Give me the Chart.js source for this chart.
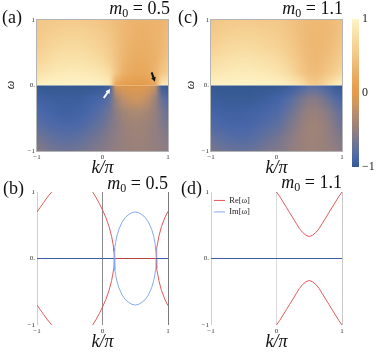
<!DOCTYPE html>
<html>
<head>
<meta charset="utf-8">
<script src="https://cdn.jsdelivr.net/npm/chart.js@4.4.1/dist/chart.umd.min.js"></script>
<style>
  body { margin: 0; background: #fff; }
  #fig { position: relative; width: 377px; height: 354px; overflow: hidden; background: #fff;
         font-family: 'Liberation Serif', 'DejaVu Serif', serif; color: #111; }
  #fig canvas { position: absolute; }
  .lbl { position: absolute; white-space: nowrap; line-height: 1; font-size: 18px; }
  .ttl { position: absolute; white-space: nowrap; line-height: 1; font-size: 18px; }
  .ttl sub { font-size: 12px; vertical-align: -3px; line-height: 0; }
  .wlab { position: absolute; width: 20px; height: 14px; line-height: 14px; text-align: center;
          font-size: 12px; font-style: italic; transform: rotate(-90deg); }
</style>
</head>
<body>
<div id="fig">
  <canvas id="cA" width="172" height="185" style="left:0;top:0"></canvas>
  <canvas id="cC" width="166" height="185" style="left:180px;top:0"></canvas>
  <canvas id="cBar" width="31" height="185" style="left:346px;top:0"></canvas>
  <canvas id="cB" width="172" height="182" style="left:0;top:172px"></canvas>
  <canvas id="cD" width="166" height="182" style="left:180px;top:172px"></canvas>

  <div class="lbl" style="left:2px;top:8px">(a)</div>
  <div class="lbl" style="left:178px;top:8px">(c)</div>
  <div class="lbl" style="left:3px;top:179px">(b)</div>
  <div class="lbl" style="left:181px;top:179px">(d)</div>
  <div class="ttl" style="right:207px;top:-1px"><i>m</i><sub>0</sub> = 0.5</div>
  <div class="ttl" style="right:34px;top:-1px"><i>m</i><sub>0</sub> = 1.1</div>
  <div class="ttl" style="right:209px;top:174px"><i>m</i><sub>0</sub> = 0.5</div>
  <div class="ttl" style="right:35px;top:173px"><i>m</i><sub>0</sub> = 1.1</div>
  <div class="wlab" style="left:0px;top:78px">ω</div>
  <div class="wlab" style="left:180px;top:78px">ω</div>
</div>
<script>
const SERIF = "'Liberation Serif', 'DejaVu Serif', serif";

// axis ticks
const kTicks = [-1, 0, 1];
const kTickText = ['\u22121', '0', '1'];
const wTicks = [-1, 0, 1];
const wTickText = ['\u22121', '0.', '1'];

// colour scale of the density plots
const cmapValues = [-1, -0.9, -0.8, -0.65, -0.55, -0.45, -0.3, -0.15, 0, 0.2, 0.35, 0.5, 0.65, 0.85, 1];
const cmapColors = ['#34598f', '#4565aa', '#586ea4', '#767690', '#8a7c86', '#9c8279', '#b28c70', '#cf9660',
                    '#e39a4a', '#e8a85c', '#edb670', '#f3c686', '#f6d294', '#fbe6b0', '#fef4c8'];
const barTicks = [-1, 0, 1];
const barTickText = ['\u22121', '0', '1'];

// density plot grid (k/pi columns, omega rows)
const kGrid = [-1, -0.9, -0.8, -0.7, -0.6, -0.5, -0.4, -0.3, -0.2, -0.1, 0, 0.1, 0.2, 0.3, 0.4, 0.5, 0.6, 0.7, 0.8, 0.9, 1];
const wTopGrid = [1, 0.8, 0.6, 0.4, 0.2, 0];
const wBottomGrid = [0, -0.2, -0.4, -0.6, -0.8, -1];

// (a) m0 = 0.5
const heatTopA = [
  [0.50,0.52,0.54,0.55,0.56,0.56,0.56,0.55,0.53,0.51,0.48,0.45,0.41,0.38,0.35,0.33,0.32,0.32,0.33,0.35,0.38],
  [0.55,0.58,0.61,0.63,0.65,0.66,0.66,0.65,0.63,0.60,0.56,0.50,0.44,0.38,0.34,0.31,0.30,0.31,0.33,0.36,0.42],
  [0.60,0.64,0.68,0.71,0.72,0.73,0.73,0.72,0.70,0.67,0.63,0.55,0.46,0.38,0.32,0.29,0.28,0.29,0.32,0.37,0.44],
  [0.68,0.72,0.76,0.79,0.80,0.81,0.81,0.80,0.78,0.75,0.71,0.62,0.47,0.36,0.29,0.25,0.24,0.26,0.31,0.40,0.50],
  [0.80,0.83,0.86,0.88,0.89,0.90,0.90,0.89,0.88,0.86,0.83,0.75,0.50,0.32,0.24,0.21,0.20,0.23,0.33,0.50,0.62],
  [0.97,0.98,0.99,1.00,1.00,1.00,1.00,1.00,0.99,0.98,0.96,0.92,0.15,0.06,0.03,0.02,0.03,0.06,0.15,0.88,0.94]
];
const heatBottomA = [
  [-1.00,-1.00,-1.00,-1.00,-1.00,-1.00,-1.00,-1.00,-1.00,-0.99,-0.98,-0.95,-0.10,-0.04,-0.02,-0.02,-0.03,-0.06,-0.20,-0.96,-0.99],
  [-0.92,-0.93,-0.94,-0.95,-0.95,-0.95,-0.95,-0.94,-0.92,-0.90,-0.87,-0.78,-0.45,-0.25,-0.18,-0.15,-0.17,-0.25,-0.45,-0.72,-0.85],
  [-0.86,-0.88,-0.90,-0.92,-0.93,-0.93,-0.92,-0.90,-0.87,-0.83,-0.77,-0.68,-0.54,-0.42,-0.36,-0.34,-0.35,-0.40,-0.48,-0.62,-0.73],
  [-0.78,-0.81,-0.84,-0.86,-0.87,-0.87,-0.86,-0.84,-0.80,-0.75,-0.70,-0.62,-0.55,-0.48,-0.44,-0.42,-0.43,-0.46,-0.50,-0.58,-0.65],
  [-0.66,-0.70,-0.74,-0.77,-0.78,-0.78,-0.77,-0.74,-0.70,-0.66,-0.62,-0.57,-0.52,-0.48,-0.46,-0.45,-0.45,-0.47,-0.50,-0.54,-0.58],
  [-0.56,-0.60,-0.64,-0.67,-0.68,-0.68,-0.67,-0.65,-0.62,-0.59,-0.57,-0.54,-0.50,-0.48,-0.47,-0.46,-0.46,-0.47,-0.49,-0.51,-0.54]
];

// (c) m0 = 1.1
const heatTopC = [
  [0.50,0.52,0.54,0.55,0.56,0.56,0.56,0.55,0.54,0.53,0.52,0.50,0.47,0.44,0.41,0.39,0.38,0.38,0.39,0.42,0.45],
  [0.56,0.59,0.62,0.64,0.65,0.66,0.66,0.65,0.63,0.61,0.59,0.55,0.50,0.45,0.41,0.38,0.37,0.37,0.39,0.43,0.48],
  [0.64,0.67,0.70,0.72,0.73,0.74,0.73,0.72,0.70,0.68,0.66,0.61,0.55,0.48,0.42,0.38,0.37,0.38,0.41,0.46,0.52],
  [0.74,0.77,0.79,0.81,0.82,0.82,0.82,0.81,0.79,0.77,0.75,0.70,0.63,0.54,0.45,0.40,0.38,0.40,0.45,0.52,0.60],
  [0.85,0.86,0.88,0.89,0.90,0.90,0.90,0.89,0.88,0.86,0.84,0.80,0.73,0.63,0.50,0.43,0.42,0.45,0.53,0.63,0.72],
  [0.98,0.99,0.99,1.00,1.00,1.00,1.00,1.00,0.99,0.99,0.98,0.96,0.93,0.88,0.78,0.62,0.58,0.66,0.80,0.92,0.97]
];
const heatBottomC = [
  [-1.00,-1.00,-1.00,-1.00,-1.00,-1.00,-1.00,-1.00,-1.00,-1.00,-0.99,-0.98,-0.96,-0.92,-0.86,-0.80,-0.80,-0.85,-0.92,-0.97,-0.99],
  [-0.96,-0.96,-0.97,-0.97,-0.97,-0.97,-0.97,-0.96,-0.95,-0.93,-0.91,-0.87,-0.81,-0.72,-0.63,-0.57,-0.57,-0.63,-0.72,-0.82,-0.89],
  [-0.91,-0.92,-0.93,-0.93,-0.93,-0.93,-0.92,-0.91,-0.89,-0.87,-0.85,-0.79,-0.71,-0.62,-0.53,-0.48,-0.47,-0.51,-0.58,-0.68,-0.77],
  [-0.84,-0.86,-0.88,-0.89,-0.89,-0.89,-0.88,-0.86,-0.83,-0.80,-0.77,-0.71,-0.63,-0.55,-0.48,-0.44,-0.43,-0.46,-0.52,-0.61,-0.70],
  [-0.73,-0.76,-0.79,-0.81,-0.82,-0.82,-0.81,-0.78,-0.74,-0.70,-0.67,-0.61,-0.55,-0.50,-0.46,-0.44,-0.44,-0.46,-0.50,-0.56,-0.62],
  [-0.63,-0.66,-0.69,-0.71,-0.72,-0.72,-0.71,-0.68,-0.65,-0.62,-0.60,-0.56,-0.52,-0.49,-0.46,-0.45,-0.45,-0.46,-0.48,-0.51,-0.54]
];

// arrows pointing at the exceptional points in (a): [k from, w from, k to, w to]
const arrowWhiteA = [0.02, -0.19, 0.115, -0.053];
const arrowBlackA = [0.75, 0.20, 0.80, 0.058];

// (b) m0 = 0.5 spectrum
const kB = [-1, -0.95, -0.9, -0.85, -0.8, -0.76, -0.5, -0.16, -0.15, -0.1, -0.05, 0, 0.05, 0.1, 0.14, 0.16, 0.17, 0.175,
            0.18, 0.185, 0.19, 0.2, 0.22, 0.25, 0.3, 0.35, 0.4, 0.45, 0.5, 0.55, 0.6, 0.65, 0.7, 0.75, 0.78, 0.8, 0.81, 0.815,
            0.82, 0.825, 0.83, 0.84, 0.86, 0.9, 0.95, 1];
const reUpperB = [0.70, 0.77, 0.84, 0.91, 0.97, 1.02, null, 1.02, 1.00, 0.92, 0.83, 0.73, 0.62, 0.48, 0.33, 0.22, 0.16, 0.11,
                  0, 0, 0, 0, 0, 0, 0, 0, 0, 0, 0, 0, 0, 0, 0, 0, 0, 0, 0, 0,
                  0, 0.11, 0.16, 0.22, 0.33, 0.48, 0.61, 0.71];
const reLowerB = [-0.70, -0.77, -0.84, -0.91, -0.97, -1.02, null, -1.02, -1.00, -0.92, -0.83, -0.73, -0.62, -0.48, -0.33, -0.22, -0.16, -0.11,
                  0, 0, 0, 0, 0, 0, 0, 0, 0, 0, 0, 0, 0, 0, 0, 0, 0, 0, 0, 0,
                  0, -0.11, -0.16, -0.22, -0.33, -0.48, -0.61, -0.71];
const imUpperB = [0, 0, 0, 0, 0, 0, 0, 0, 0, 0, 0, 0, 0, 0, 0, 0, 0, 0,
                  0, 0.12, 0.17, 0.24, 0.34, 0.44, 0.55, 0.62, 0.66, 0.69, 0.70, 0.69, 0.66, 0.62, 0.55, 0.44, 0.34, 0.24, 0.17, 0.12,
                  0, 0, 0, 0, 0, 0, 0, 0];
const imLowerB = [0, 0, 0, 0, 0, 0, 0, 0, 0, 0, 0, 0, 0, 0, 0, 0, 0, 0,
                  0, -0.12, -0.17, -0.24, -0.34, -0.44, -0.55, -0.62, -0.66, -0.69, -0.70, -0.69, -0.66, -0.62, -0.55, -0.44, -0.34, -0.24, -0.17, -0.12,
                  0, 0, 0, 0, 0, 0, 0, 0];

// (d) m0 = 1.1 spectrum
const kD = [-1, 0, 0.05, 0.1, 0.15, 0.2, 0.25, 0.3, 0.35, 0.4, 0.45, 0.5, 0.55, 0.6, 0.65, 0.7, 0.75, 0.8, 0.85, 0.9, 0.95, 1];
const reUpperD = [null, 1.00, 0.93, 0.85, 0.77, 0.69, 0.61, 0.53, 0.45, 0.39, 0.35, 0.33, 0.35, 0.39, 0.45, 0.53, 0.61, 0.69, 0.77, 0.85, 0.93, 1.00];
const reLowerD = [null, -1.00, -0.93, -0.85, -0.77, -0.69, -0.61, -0.53, -0.45, -0.39, -0.35, -0.33, -0.35, -0.39, -0.45, -0.53, -0.61, -0.69, -0.77, -0.85, -0.93, -1.00];
const imUpperD = [0, 0, 0, 0, 0, 0, 0, 0, 0, 0, 0, 0, 0, 0, 0, 0, 0, 0, 0, 0, 0, 0];
const imLowerD = [0, 0, 0, 0, 0, 0, 0, 0, 0, 0, 0, 0, 0, 0, 0, 0, 0, 0, 0, 0, 0, 0];

const RE = '#e2585a', RE_DARK = '#b8443f', IM = '#86a9ef', IM_DARK = '#3d5ca8';

function hexToRgb(h) {
  return [parseInt(h.slice(1, 3), 16), parseInt(h.slice(3, 5), 16), parseInt(h.slice(5, 7), 16)];
}
function cmap(v) {
  v = Math.max(-1, Math.min(1, v));
  for (let i = 1; i < cmapValues.length; i++) {
    if (v <= cmapValues[i]) {
      const t = (v - cmapValues[i - 1]) / (cmapValues[i] - cmapValues[i - 1]);
      const a = hexToRgb(cmapColors[i - 1]), b = hexToRgb(cmapColors[i]);
      return a.map((c, j) => Math.round(c + (b[j] - c) * t));
    }
  }
  return hexToRgb(cmapColors[cmapColors.length - 1]);
}

function drawArrow(ctx, x0, y0, x1, y1, color) {
  const ang = Math.atan2(y1 - y0, x1 - x0), head = 5;
  ctx.strokeStyle = color; ctx.fillStyle = color; ctx.lineWidth = 2; ctx.lineCap = 'butt';
  ctx.beginPath();
  ctx.moveTo(x0, y0);
  ctx.lineTo(x1 - head * 0.8 * Math.cos(ang), y1 - head * 0.8 * Math.sin(ang));
  ctx.stroke();
  ctx.beginPath();
  ctx.moveTo(x1, y1);
  ctx.lineTo(x1 - head * Math.cos(ang - 0.5), y1 - head * Math.sin(ang - 0.5));
  ctx.lineTo(x1 - head * Math.cos(ang + 0.5), y1 - head * Math.sin(ang + 0.5));
  ctx.closePath();
  ctx.fill();
}

const heatmapPlugin = {
  id: 'heatmap',
  beforeDatasetsDraw(chart, args, opts) {
    const {ctx, chartArea: a, scales: {x, y}} = chart;
    const dk = kGrid[1] - kGrid[0];
    [[opts.top, wTopGrid, 1, 0], [opts.bottom, wBottomGrid, 0, -1]].forEach(([grid, ws, wHi, wLo]) => {
      const off = document.createElement('canvas');
      off.width = kGrid.length; off.height = ws.length;
      const octx = off.getContext('2d');
      const img = octx.createImageData(off.width, off.height);
      grid.forEach((row, r) => row.forEach((v, c) => {
        const rgb = cmap(v), p = (r * off.width + c) * 4;
        img.data[p] = rgb[0]; img.data[p + 1] = rgb[1]; img.data[p + 2] = rgb[2]; img.data[p + 3] = 255;
      }));
      octx.putImageData(img, 0, 0);
      const dw = ws[0] - ws[1];
      const x0 = x.getPixelForValue(kGrid[0] - dk / 2), x1 = x.getPixelForValue(kGrid[kGrid.length - 1] + dk / 2);
      const y0 = y.getPixelForValue(ws[0] + dw / 2), y1 = y.getPixelForValue(ws[ws.length - 1] - dw / 2);
      const yt = y.getPixelForValue(wHi), yb = y.getPixelForValue(wLo);
      ctx.save();
      ctx.beginPath();
      ctx.rect(a.left, yt, a.right - a.left, yb - yt);
      ctx.clip();
      ctx.imageSmoothingEnabled = true;
      ctx.imageSmoothingQuality = 'low';
      ctx.drawImage(off, x0, y0, x1 - x0, y1 - y0);
      ctx.restore();
    });
  },
  afterDatasetsDraw(chart, args, opts) {
    const {ctx, chartArea: a, scales: {x, y}} = chart;
    ctx.save();
    (opts.arrows || []).forEach(([arr, color]) => {
      drawArrow(ctx, x.getPixelForValue(arr[0]), y.getPixelForValue(arr[1]),
                x.getPixelForValue(arr[2]), y.getPixelForValue(arr[3]), color);
    });
    ctx.strokeStyle = '#b4b4b4';
    ctx.lineWidth = 1;
    ctx.strokeRect(a.left - 0.5, a.top - 0.5, a.right - a.left + 1, a.bottom - a.top + 1);
    ctx.restore();
  }
};

const colorbarPlugin = {
  id: 'colorbar',
  beforeDatasetsDraw(chart) {
    const {ctx, chartArea: a, scales: {y}} = chart;
    const g = ctx.createLinearGradient(0, y.getPixelForValue(-1), 0, y.getPixelForValue(1));
    cmapValues.forEach((v, i) => g.addColorStop((v + 1) / 2, cmapColors[i]));
    ctx.fillStyle = g;
    ctx.fillRect(a.left, a.top, a.right - a.left, a.bottom - a.top);
  }
};

function axes(o) {
  return {
    x: {
      type: 'linear', min: -1, max: 1,
      afterBuildTicks: s => { s.ticks = kTicks.map(v => ({value: v})); },
      afterFit: s => { s.height = o.xh; },
      ticks: { callback: v => kTickText[kTicks.indexOf(v)], font: {family: SERIF, size: 7}, color: '#333',
               padding: 2, maxRotation: 0, autoSkip: false },
      grid: { display: !!o.vgrid, drawTicks: false, lineWidth: 1,
              color: c => o.vgrid ? o.vgrid[kTicks.indexOf(c.tick.value)] : 'transparent' },
      border: { display: false },
      title: { display: true, text: 'k/π', color: '#111', font: {family: SERIF, size: 18, style: 'italic'},
               padding: {top: 0, bottom: o.xtPad} }
    },
    y: {
      type: 'linear', min: -1, max: 1,
      afterBuildTicks: s => { s.ticks = wTicks.map(v => ({value: v})); },
      afterFit: s => { s.width = o.yw; },
      ticks: { callback: v => wTickText[wTicks.indexOf(v)], font: {family: SERIF, size: 7}, color: '#333',
               padding: 2, autoSkip: false },
      grid: { display: false, drawTicks: false },
      border: { display: false }
    }
  };
}

function heatChart(id, top, bottom, arrows) {
  return new Chart(document.getElementById(id), {
    type: 'scatter',
    data: { datasets: [] },
    options: {
      responsive: false, animation: false, devicePixelRatio: 1, events: [],
      layout: { padding: {left: 0, top: 20, right: 4, bottom: 0} },
      scales: axes({xh: 34, xtPad: 6, yw: id === 'cA' ? 37 : 31}),
      plugins: { legend: {display: false}, tooltip: {enabled: false}, heatmap: {top, bottom, arrows} }
    },
    plugins: [heatmapPlugin]
  });
}

function pts(ks, vs) { return ks.map((k, i) => ({x: k, y: vs[i]})); }
function lineSet(label, data, color, dark, order) {
  return {
    label, data, order, borderColor: color, backgroundColor: color, borderWidth: 1, pointRadius: 0,
    tension: 0, spanGaps: false,
    segment: { borderColor: c => (c.p0.parsed.y === 0 && c.p1.parsed.y === 0) ? dark : undefined }
  };
}

function lineChart(id, ks, reU, reL, imU, imL, vgrid, legend) {
  return new Chart(document.getElementById(id), {
    type: 'line',
    data: {
      datasets: [
        lineSet('Re[ω]', pts(ks, reU), RE, RE_DARK, 2),
        lineSet('', pts(ks, reL), RE, RE_DARK, 2),
        lineSet('Im[ω]', pts(ks, imU), IM, IM_DARK, 1),
        lineSet('', pts(ks, imL), IM, IM_DARK, 1)
      ]
    },
    options: {
      responsive: false, animation: false, devicePixelRatio: 1, events: [],
      layout: { padding: {left: 0, top: 20, right: 4, bottom: 0} },
      scales: axes({xh: 29, xtPad: 1, yw: id === 'cB' ? 37 : 31, vgrid}),
      plugins: {
        tooltip: {enabled: false},
        legend: {
          display: legend, position: 'chartArea', align: 'start',
          title: { display: true, text: ' ', font: {size: 1}, padding: {top: 20, bottom: 0} },
          labels: {
            filter: item => item.text !== '',
            sort: (a, b) => a.datasetIndex - b.datasetIndex,
            usePointStyle: true, pointStyle: 'line', pointStyleWidth: 11,
            font: {family: SERIF, size: 8.5}, color: '#222', padding: 3
          }
        }
      }
    }
  });
}

heatChart('cA', heatTopA, heatBottomA, [[arrowWhiteA, '#ffffff'], [arrowBlackA, '#111111']]);
heatChart('cC', heatTopC, heatBottomC, []);

new Chart(document.getElementById('cBar'), {
  type: 'scatter',
  data: { datasets: [] },
  options: {
    responsive: false, animation: false, devicePixelRatio: 1, events: [],
    layout: { padding: {left: 6, top: 19, right: 0, bottom: 18} },
    scales: {
      x: { display: false, min: 0, max: 1 },
      y: {
        position: 'right', min: -1, max: 1,
        afterBuildTicks: s => { s.ticks = barTicks.map(v => ({value: v})); },
        afterFit: s => { s.width = 18; },
        ticks: { callback: v => barTickText[barTicks.indexOf(v)], font: {family: SERIF, size: 12}, color: '#222', padding: 3 },
        grid: { display: false, drawTicks: false }, border: { display: false }
      }
    },
    plugins: { legend: {display: false}, tooltip: {enabled: false} }
  },
  plugins: [colorbarPlugin]
});

lineChart('cB', kB, reUpperB, reLowerB, imUpperB, imLowerB, ['#cfcfcf', '#8c8c8c', '#7a7a7a'], false);
lineChart('cD', kD, reUpperD, reLowerD, imUpperD, imLowerD, ['#d0d0d0', '#dadada', '#c8c8c8'], true);
</script>
</body>
</html>
